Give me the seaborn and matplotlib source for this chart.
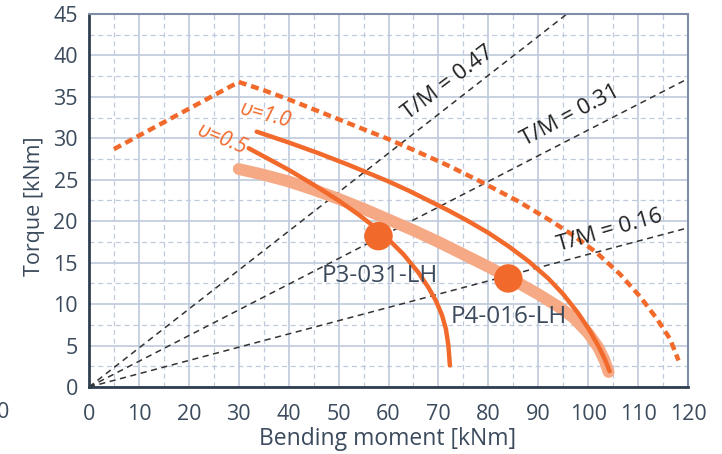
import pandas as pd
import matplotlib.pyplot as plt
import seaborn as sns

# dashed envelope curve
env_m = [5, 30, 35, 40, 45, 50, 55, 60, 65, 72, 78.4, 85.7, 92.4, 97, 101.7, 106.4, 110.4, 113.8, 116.4, 118.1]
env_t = [28.7, 36.8, 35.8, 34.7, 33.5, 32.3, 31.1, 29.9, 28.6, 26.7, 24.8, 22.5, 20.1, 18.3, 16.2, 13.6, 10.9, 8.2, 5.8, 3.2]

# v=1.0 curve
u10_m = [33.6, 40, 46, 52, 56, 60, 64, 68, 72, 76, 80, 84, 88, 92, 95, 98, 100, 102, 103.3, 104.3]
u10_t = [30.8, 29.5, 28.2, 26.8, 25.8, 24.8, 23.7, 22.5, 21.3, 20.0, 18.6, 17.0, 15.2, 13.1, 11.2, 8.9, 7.1, 5.0, 3.4, 1.9]

# v=0.5 curve
u05_m = [32, 36, 40, 45, 50, 54, 57, 60, 63, 66, 68, 69.5, 70.7, 71.5, 72.0, 72.3]
u05_t = [28.8, 27.5, 26.2, 24.4, 22.5, 20.8, 19.4, 17.8, 16.0, 13.8, 12.0, 10.4, 8.7, 7.0, 5.0, 2.6]

# light band
band_m = [30, 35, 40, 45, 50, 55, 60, 65, 70, 75, 80, 84.4, 90, 94, 97, 100, 102, 103.3, 104.1]
band_t = [26.3, 25.6, 24.8, 23.8, 22.7, 21.5, 20.2, 18.9, 17.5, 16.0, 14.5, 13.1, 11.2, 9.7, 8.4, 6.5, 4.8, 3.2, 1.8]

ratios = [0.47, 0.31, 0.16]
ratio_labels = ['T/M = 0.47', 'T/M = 0.31', 'T/M = 0.16']

points = ['P3-031-LH', 'P4-016-LH']
point_m = [58, 84]
point_t = [18.2, 13.1]

orange = '#f26a2b'
light = '#f6a985'
txt = '#3b4a5c'
gridc = '#bfcadc'

sns.set_theme(style='white')
plt.rcParams['font.family'] = ['Open Sans', 'DejaVu Sans']

fig = plt.figure(figsize=(7.22, 4.54), dpi=100)
ax = fig.add_axes([89 / 722, 1 - 387 / 454, 599 / 722, 373 / 454])

# T/M reference lines
for r in ratios:
    mx = min(120, 45 / r)
    df = pd.DataFrame({'m': [0, mx], 't': [0, r * mx]})
    sns.lineplot(data=df, x='m', y='t', ax=ax, color='#333333', lw=1.1,
                 linestyle=(0, (4, 3)), sort=False)

band = pd.DataFrame({'m': band_m, 't': band_t})
sns.lineplot(data=band, x='m', y='t', ax=ax, color=light, lw=8.5, sort=False,
             solid_capstyle='round', solid_joinstyle='round')

env = pd.DataFrame({'m': env_m, 't': env_t})
sns.lineplot(data=env, x='m', y='t', ax=ax, color=orange, lw=3.2, sort=False,
             linestyle=(0, (1.8, 1.1)))

u10 = pd.DataFrame({'m': u10_m, 't': u10_t})
sns.lineplot(data=u10, x='m', y='t', ax=ax, color=orange, lw=3.2, sort=False,
             solid_joinstyle='round')
u05 = pd.DataFrame({'m': u05_m, 't': u05_t})
sns.lineplot(data=u05, x='m', y='t', ax=ax, color=orange, lw=3.2, sort=False,
             solid_joinstyle='round')

pts = pd.DataFrame({'m': point_m, 't': point_t, 'name': points})
sns.scatterplot(data=pts, x='m', y='t', ax=ax, color=orange, s=420,
                edgecolor='none', zorder=5)

ax.text(58.3, 13.4, points[0], color=txt, fontsize=17.5, ha='center', va='center')
ax.text(84.0, 8.4, points[1], color=txt, fontsize=17.5, ha='center', va='center')

ax.text(71.9, 36.7, ratio_labels[0], color='#222222', fontsize=16,
        rotation=37, ha='center', va='center')
ax.text(96.4, 32.7, ratio_labels[1], color='#222222', fontsize=16,
        rotation=28, ha='center', va='center')
ax.text(104.4, 18.9, ratio_labels[2], color='#222222', fontsize=16,
        rotation=16, ha='center', va='center')

ax.text(35.3, 32.8, 'υ=1.0', color=orange, fontsize=15, style='italic',
        rotation=-15, ha='center', va='center')
ax.text(26.7, 29.8, 'υ=0.5', color=orange, fontsize=15, style='italic',
        rotation=-22, ha='center', va='center')

ax.set_xlim(0, 120)
ax.set_ylim(0, 45)
ax.set_xticks(range(0, 121, 10))
ax.set_yticks(range(0, 46, 5))
ax.set_xticks(range(5, 120, 10), minor=True)
ax.set_yticks([2.5 + 5 * i for i in range(9)], minor=True)
ax.grid(True, which='major', color=gridc, lw=1.2)
ax.grid(True, which='minor', color=gridc, lw=0.9, linestyle=(0, (4, 3)))
ax.set_axisbelow(True)

ax.tick_params(axis='x', which='major', direction='in', length=5, width=1.5,
               color='#6f7f95', pad=12, labelsize=15.5, labelcolor=txt)
ax.tick_params(axis='y', which='major', length=0, pad=8, labelsize=15.5,
               labelcolor=txt)
ax.tick_params(which='minor', length=0)

for s in ['left', 'bottom']:
    ax.spines[s].set_color('#2f3e4f')
    ax.spines[s].set_linewidth(2)
for s in ['top', 'right']:
    ax.spines[s].set_color('#7f8ea6')
    ax.spines[s].set_linewidth(1.5)

ax.set_xlabel('Bending moment [kNm]', fontsize=16.5, color=txt)
ax.set_ylabel('Torque [kNm]', fontsize=15.5, color=txt)
ax.xaxis.set_label_coords(0.498, -0.108)
ax.yaxis.set_label_coords(-0.073, 0.485)

fig.text(-0.005, 1 - 413 / 454, '0', fontsize=15.5, color=txt, ha='left', va='center')

fig.savefig('out.png', dpi=100)
